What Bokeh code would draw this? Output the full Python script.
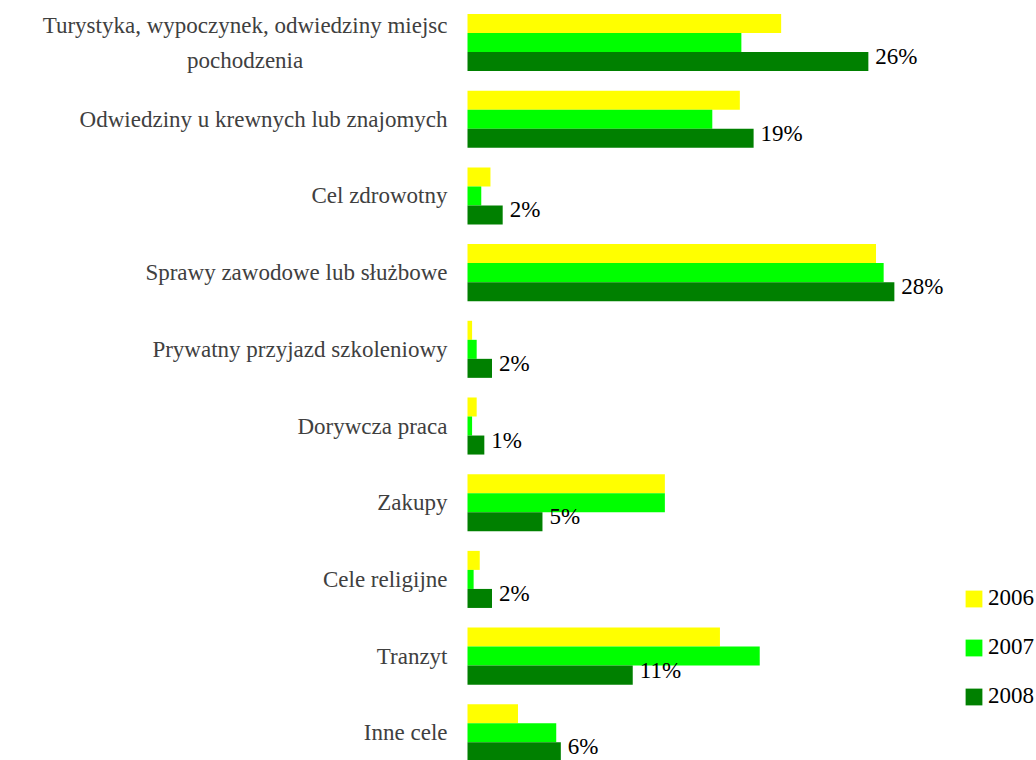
from bokeh.plotting import figure
from bokeh.models import ColumnDataSource, Range1d, Legend, LegendItem
from bokeh.core.properties import value
from bokeh.embed import file_html
from bokeh.resources import INLINE

categories = [
    "Turystyka, wypoczynek, odwiedziny miejsc\npochodzenia",
    "Odwiedziny u krewnych lub znajomych",
    "Cel zdrowotny",
    "Sprawy zawodowe lub służbowe",
    "Prywatny przyjazd szkoleniowy",
    "Dorywcza praca",
    "Zakupy",
    "Cele religijne",
    "Tranzyt",
    "Inne cele",
]
v2006 = [20.5, 17.8, 1.5, 26.7, 0.3, 0.6, 12.9, 0.8, 16.5, 3.3]
v2007 = [17.9, 16.0, 0.9, 27.2, 0.6, 0.3, 12.9, 0.4, 19.1, 5.8]
v2008 = [26.2, 18.7, 2.3, 27.9, 1.6, 1.1, 4.9, 1.6, 10.8, 6.1]
years = ["2006", "2007", "2008"]
colors = ["#FFFF00", "#00FF00", "#008000"]

FONT = "Liberation Serif"
BAR = 0.248
idx = list(range(len(categories)))
src = ColumnDataSource(dict(
    y=[float(i) for i in idx],
    y06=[i - BAR for i in idx],
    y07=[float(i) for i in idx],
    y08=[i + BAR for i in idx],
    cat=categories,
    zero=[0.0] * len(idx),
    v2006=v2006, v2007=v2007, v2008=v2008,
    label=[f"{round(v)}%" for v in v2008],
))

W, H = 1036, 760
PX = 15.3          # pixels per percent point
X0 = 467           # screen x of the zero line
p = figure(width=W, height=H, output_backend="svg", toolbar_location=None,
           x_range=Range1d(-X0 / PX, (W - X0) / PX),
           y_range=Range1d(9.361, -0.548),
           min_border=0, min_border_left=0, min_border_right=0,
           min_border_top=0, min_border_bottom=0,
           x_axis_location=None, y_axis_location=None, outline_line_color=None)
p.xgrid.grid_line_color = None
p.ygrid.grid_line_color = None

renderers = []
for ycol, vcol, c in zip(["y06", "y07", "y08"], ["v2006", "v2007", "v2008"], colors):
    r = p.hbar(y=ycol, left=0, right=vcol, height=BAR, fill_color=c, line_color=None, source=src)
    renderers.append(r)

# category labels
p.text(x="zero", y="y", text="cat", source=src, x_offset=-20,
       anchor=value("center_right"), text_align="center", text_baseline="middle",
       text_line_height=1.4, text_font=value(FONT), text_font_size="23px",
       text_color="#404040")

# value labels for 2008
p.text(x="v2008", y="y08", text="label", source=src, x_offset=7, y_offset=-5,
       text_baseline="middle", text_align="left", text_font=value(FONT),
       text_font_size="23px", text_color="black")

legend = Legend(items=[LegendItem(label=yr, renderers=[r]) for yr, r in zip(years, renderers)],
                location=(963, 51), padding=0, margin=0, border_line_color=None,
                background_fill_alpha=0, glyph_width=21, glyph_height=21,
                label_standoff=4, spacing=23, label_height=17,
                label_text_font=FONT, label_text_font_size="23px", label_text_color="black")
p.add_layout(legend)

open("out.html", "w").write(file_html(p, INLINE))
